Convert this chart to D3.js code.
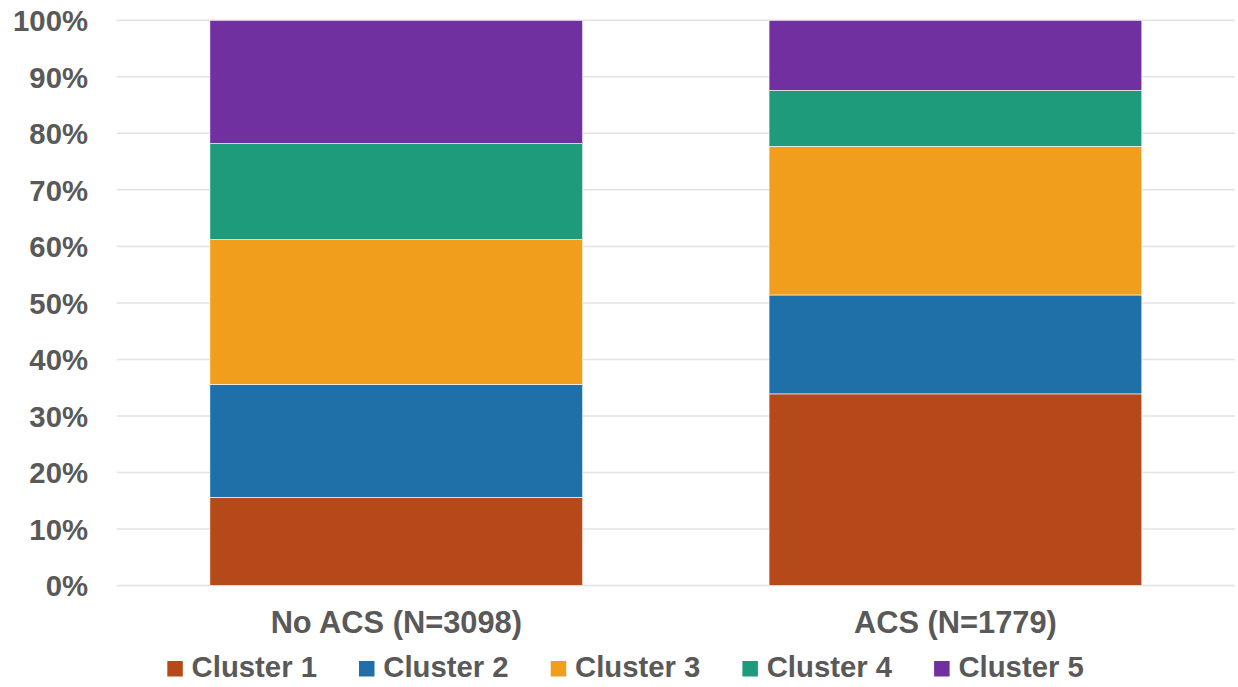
<!DOCTYPE html>
<html>
<head>
<meta charset="utf-8">
<script src="https://cdn.jsdelivr.net/npm/d3@7"></script>
<style>
  html, body { margin: 0; padding: 0; background: #fff; }
  svg { display: block; }
  text { font-family: "Liberation Sans", Arial, sans-serif; font-weight: bold; fill: #595959; }
</style>
</head>
<body>
<svg id="chart" width="1238" height="687"></svg>
<script>
const categories = ["No ACS (N=3098)", "ACS (N=1779)"];
const seriesNames = ["Cluster 1", "Cluster 2", "Cluster 3", "Cluster 4", "Cluster 5"];
const cluster1 = [15.6, 33.9];
const cluster2 = [20.0, 17.5];
const cluster3 = [25.6, 26.3];
const cluster4 = [17.0, 9.9];
const cluster5 = [21.8, 12.4];
const colors = ["#B5491A", "#1F6FA9", "#F09E1B", "#1E9B7B", "#7030A0"];
const yTicks = [0, 10, 20, 30, 40, 50, 60, 70, 80, 90, 100];

const seriesValues = [cluster1, cluster2, cluster3, cluster4, cluster5];
const table = categories.map((c, i) => {
  const row = { category: c };
  seriesNames.forEach((s, j) => row[s] = seriesValues[j][i]);
  return row;
});

const svg = d3.select("#chart");
const plotLeft = 116.7, plotRight = 1235, plotTop = 20.3, plotBottom = 585.5;

const x = d3.scaleBand().domain(categories).range([plotLeft, plotRight])
  .paddingInner(1/3).paddingOuter(1/6);
const y = d3.scaleLinear().domain([0, 100]).range([plotBottom, plotTop]);

// gridlines
svg.append("g").selectAll("line").data(yTicks).join("line")
  .attr("x1", plotLeft).attr("x2", plotRight)
  .attr("y1", d => y(d)).attr("y2", d => y(d))
  .attr("stroke", "#E3E3E3").attr("stroke-width", 1.5);

// y axis labels
const yAxis = d3.axisLeft(y).tickValues(yTicks).tickFormat(d => d + "%").tickSize(0).tickPadding(0);
const yg = svg.append("g").attr("transform", `translate(${88},0)`).call(yAxis);
yg.select(".domain").remove();
yg.selectAll("text").attr("font-size", 29.3).attr("fill", "#595959")
  .attr("font-family", "Liberation Sans, Arial, sans-serif").attr("font-weight", "bold")
  .attr("dy", "0.35em");

// stacked bars
const stack = d3.stack().keys(seriesNames)(table);
svg.append("g").selectAll("g").data(stack).join("g")
  .attr("fill", (d, i) => colors[i])
  .selectAll("rect").data(d => d).join("rect")
  .attr("x", d => x(d.data.category))
  .attr("width", x.bandwidth())
  .attr("y", d => y(d[1]))
  .attr("height", d => y(d[0]) - y(d[1]))
  .attr("stroke", "#ffffff").attr("stroke-width", 0.6);

// x axis labels
const xAxis = d3.axisBottom(x).tickSize(0).tickPadding(0);
const xg = svg.append("g").attr("transform", `translate(0,${632.5})`).call(xAxis);
xg.select(".domain").remove();
xg.selectAll("text").attr("font-size", 30.8).attr("fill", "#595959")
  .attr("font-family", "Liberation Sans, Arial, sans-serif").attr("font-weight", "bold")
  .attr("dy", 0);

// legend
const legend = svg.append("g");
const items = legend.selectAll("g").data(seriesNames).join("g")
  .attr("transform", (d, i) => `translate(${167.3 + i * 191.7},0)`);
items.append("rect").attr("x", 0).attr("y", 661).attr("width", 15.5).attr("height", 15.5)
  .attr("fill", (d, i) => colors[i]);
items.append("text").attr("x", 24.3).attr("y", 677.3).attr("font-size", 29.3).text(d => d);
</script>
</body>
</html>
